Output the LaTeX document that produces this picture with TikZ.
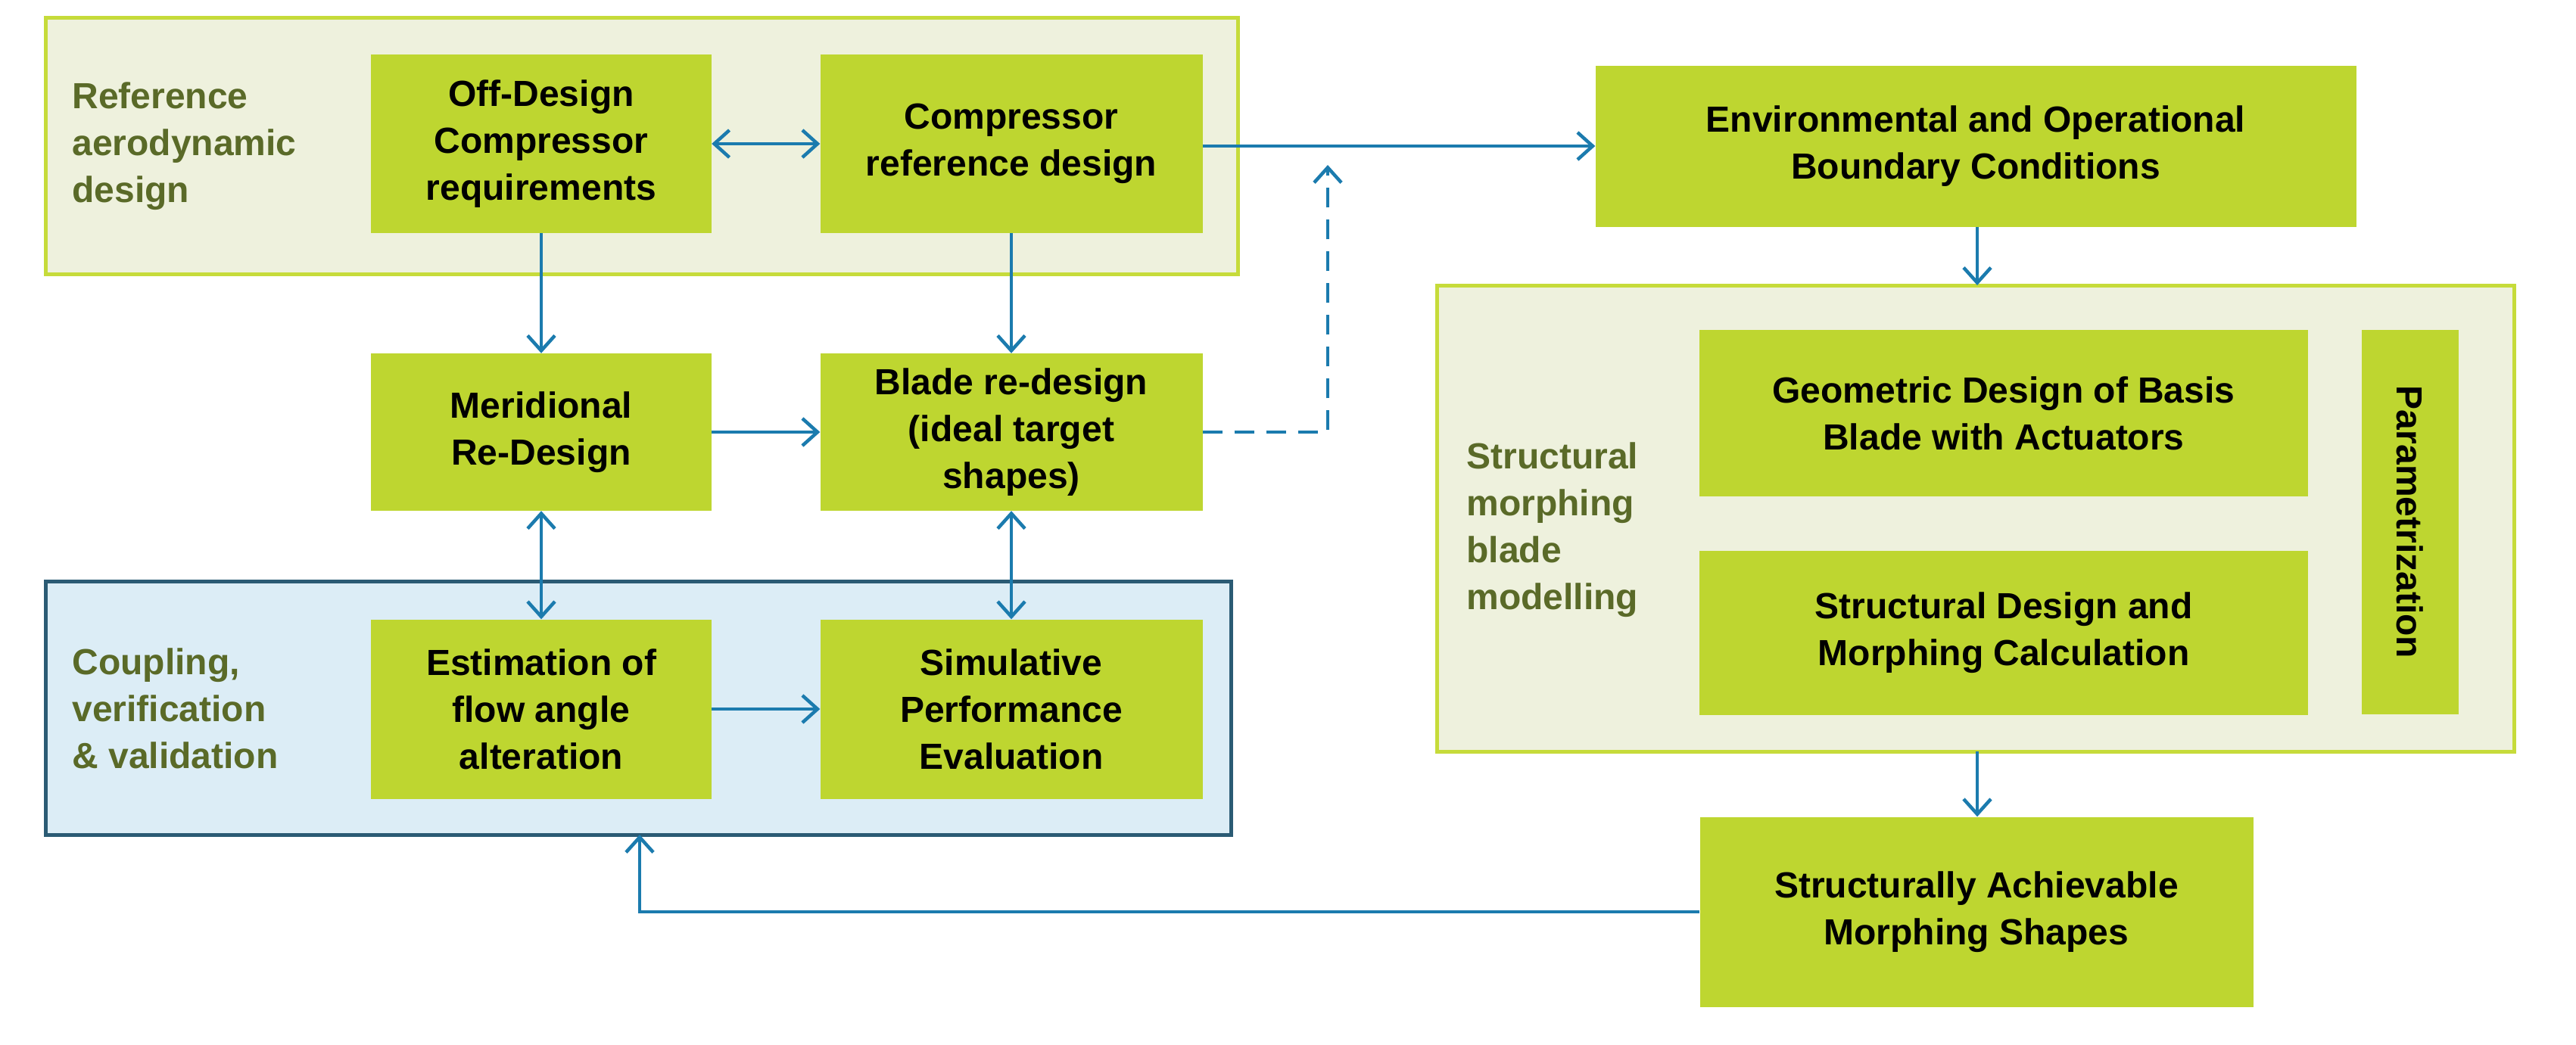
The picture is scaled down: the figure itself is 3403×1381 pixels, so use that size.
\documentclass[tikz,border=0pt]{standalone}
\usepackage{fontspec}
\setmainfont{Liberation Sans}
\usetikzlibrary{arrows.meta}
\definecolor{bx}{HTML}{BED630}
\definecolor{gfill}{HTML}{EEF1DD}
\definecolor{gline}{HTML}{C6DB3A}
\definecolor{cfill}{HTML}{DCEDF6}
\definecolor{cline}{HTML}{2B5B74}
\definecolor{arr}{HTML}{1B7BAE}
\definecolor{lab}{HTML}{5A6A28}
\begin{document}
\begin{tikzpicture}[x=1pt,y=-1pt,
 box/.style={fill=bx,draw=none,inner sep=0,align=center,font=\fontsize{48}{62}\selectfont\bfseries},
 grp/.style={fill=gfill,draw=gline,line width=5pt},
 lbl/.style={anchor=west,align=left,text=lab,font=\fontsize{48}{62}\selectfont\bfseries},
 ar/.style={draw=arr,line width=4.5pt,-{Straight Barb[length=20pt,width=36pt,line width=4.5pt]}},
 ar2/.style={ar,{Straight Barb[length=20pt,width=36pt,line width=4.5pt]}-{Straight Barb[length=20pt,width=36pt,line width=4.5pt]}}]
\useasboundingbox (0,0) rectangle (3403,1381);
\fill[white] (0,0) rectangle (3403,1381);
% groups
\draw[grp] (60,24) rectangle (1635,362);
\draw[fill=cfill,draw=cline,line width=5pt] (60,768) rectangle (1626,1103);
\draw[grp] (1898,377) rectangle (3321,993);
% labels
\node[lbl] (l1) at (92,193) {Reference\\aerodynamic\\design};
\node[lbl] (l2) at (92,936) {Coupling,\\verification\\\& validation};
\node[lbl] (l3) at (1934,700) {Structural\\morphing\\blade\\modelling};
% boxes
\node[box,minimum width=450,minimum height=236] (od) at (715,190) {Off-Design\\Compressor\\requirements};
\node[box,minimum width=505,minimum height=236] (cr) at (1336,190) {Compressor\\reference design};
\node[box,minimum width=450,minimum height=208] (md) at (715,571) {Meridional\\Re-Design};
\node[box,minimum width=505,minimum height=208] (bd) at (1336,571) {Blade re-design\\(ideal target\\shapes)};
\node[box,minimum width=450,minimum height=237] (ef) at (715,937) {Estimation of\\flow angle\\alteration};
\node[box,minimum width=505,minimum height=237] (sp) at (1336,937) {Simulative\\Performance\\Evaluation};
\node[box,minimum width=1005,minimum height=213] (env) at (2610,193) {Environmental and Operational\\Boundary Conditions};
\node[box,minimum width=804,minimum height=220] (geo) at (2647,546) {Geometric Design of Basis\\Blade with Actuators};
\node[box,minimum width=804,minimum height=217] (sd) at (2647,836) {Structural Design and\\Morphing Calculation};
\node[box,minimum width=508,minimum height=128,rotate=-90] (par) at (3184,690) {Parametrization};
\node[box,minimum width=731,minimum height=251] (sa) at (2611,1205) {Structurally Achievable\\Morphing Shapes};
\coordinate (g3t) at (2612,377);
\coordinate (g3b) at (2612,993);
\coordinate (g2b) at (845,1103);
\coordinate (dj) at (1754,194);
% connectors
\draw[ar2] (od.east) -- (cr.west);
\draw[ar] (od.south) -- (md.north);
\draw[ar] (cr.south) -- (bd.north);
\draw[ar] (md.east) -- (bd.west);
\draw[ar2] (md.south) -- (ef.north);
\draw[ar2] (bd.south) -- (sp.north);
\draw[ar] (ef.east) -- (sp.west);
\draw[ar] (cr.east |- env.west) -- (env.west);
\draw[ar,dash pattern=on 26pt off 16pt] (bd.east) -| ([yshift=-24pt]dj);
\draw[ar] (env.south -| g3t) -- (g3t);
\draw[ar] (g3b) -- (sa.north -| g3b);
\draw[ar] (sa.west) -| (g2b);
\end{tikzpicture}
\end{document}
